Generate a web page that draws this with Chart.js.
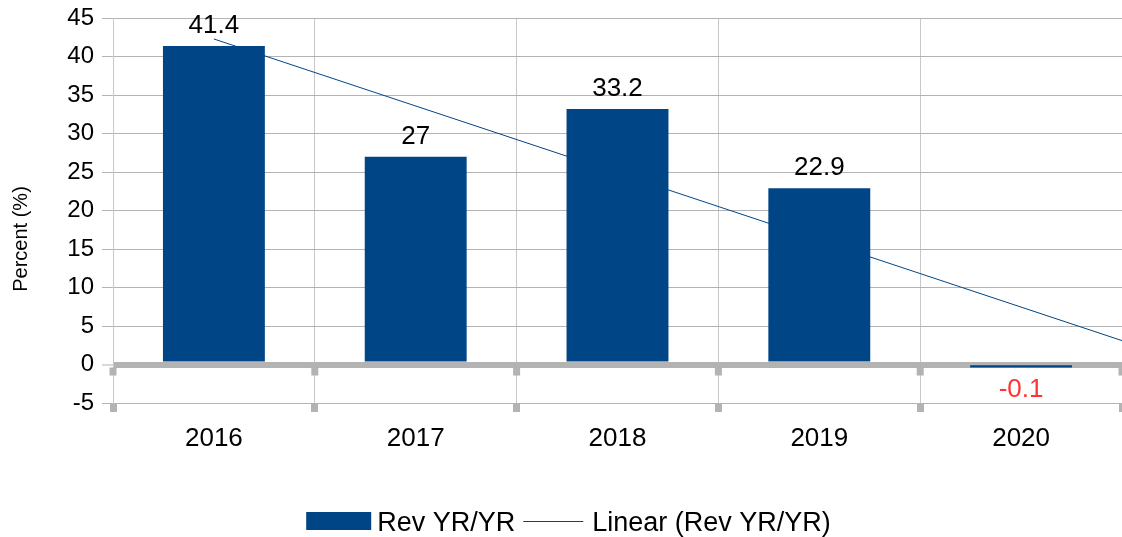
<!DOCTYPE html>
<html>
<head>
<meta charset="utf-8">
<script src="https://cdn.jsdelivr.net/npm/chart.js@4/dist/chart.umd.min.js"></script>
<style>
html,body{margin:0;padding:0;background:#fff;}
#wrap{width:1122px;height:537px;position:relative;}
</style>
</head>
<body>
<div id="wrap"><canvas id="c" width="1122" height="537"></canvas></div>
<script>
const categories = ['2016', '2017', '2018', '2019', '2020'];
const revYrYr = [41.4, 27, 33.2, 22.9, -0.1];
const yMin = -5, yMax = 45, yStep = 5;
const seriesName = 'Rev YR/YR';
const trendName = 'Linear (Rev YR/YR)';
const yTitle = 'Percent (%)';

// linear trend line computed from the series (as the source chart does)
const n = revYrYr.length;
const xs = revYrYr.map((_, i) => i + 1);
const mx = xs.reduce((a, b) => a + b, 0) / n;
const my = revYrYr.reduce((a, b) => a + b, 0) / n;
let sxy = 0, sxx = 0;
for (let i = 0; i < n; i++) { sxy += (xs[i] - mx) * (revYrYr[i] - my); sxx += (xs[i] - mx) ** 2; }
const slope = sxy / sxx, intercept = my - slope * mx;
const trendX = [1, n + 0.5];
const trendPts = trendX.map(x => ({ x: x, y: intercept + slope * x }));

const FONT = "'Liberation Sans', Arial, sans-serif";
const GRID = '#b3b3b3';
const VGRID = '#c8c8c8';
const BLUE = '#004586';

const decor = {
  id: 'decor',
  beforeDatasetsDraw(chart) {
    const x = chart.scales.x, y = chart.scales.y, ctx = chart.ctx;
    const y0 = y.getPixelForValue(0);
    const bounds = [x.left];
    for (let i = 1; i < categories.length; i++) bounds.push((x.getPixelForValue(i - 1) + x.getPixelForValue(i)) / 2);
    bounds.push(x.right);
    ctx.save();
    ctx.fillStyle = GRID;
    bounds.forEach(b => ctx.fillRect(b - 3.5, y0 + 3, 7, 8));
    ctx.restore();
  },
  afterDatasetsDraw(chart) {
    const meta = chart.getDatasetMeta(0), ctx = chart.ctx;
    ctx.save();
    ctx.font = '26px ' + FONT;
    ctx.textAlign = 'center';
    ctx.textBaseline = 'alphabetic';
    meta.data.forEach((el, i) => {
      const v = revYrYr[i];
      if (v >= 0) {
        ctx.fillStyle = '#000000';
        ctx.fillText(String(v), el.x, el.y - 13);
      } else {
        ctx.fillStyle = '#ff3333';
        ctx.fillText(String(v), el.x, el.y + 32);
      }
    });
    ctx.restore();
  },
  afterDraw(chart) {
    const ctx = chart.ctx;
    ctx.save();
    // y axis title
    ctx.font = '20px ' + FONT;
    ctx.fillStyle = '#000';
    ctx.textAlign = 'center';
    ctx.textBaseline = 'middle';
    ctx.translate(21, 239);
    ctx.rotate(-Math.PI / 2);
    ctx.fillText(yTitle, 0, 0);
    ctx.restore();

    // legend
    ctx.save();
    ctx.font = '27px ' + FONT;
    const w1 = ctx.measureText(seriesName).width;
    const w2 = ctx.measureText(trendName).width;
    const boxW = 65, boxH = 18, lineW = 60;
    const total = boxW + 6 + w1 + 8 + lineW + 9 + w2;
    let cx = 568.5 - total / 2;
    const cy = 521;
    ctx.fillStyle = BLUE;
    ctx.fillRect(cx, cy - boxH / 2, boxW, boxH);
    cx += boxW + 6;
    ctx.fillStyle = '#000';
    ctx.textAlign = 'left';
    ctx.textBaseline = 'alphabetic';
    ctx.fillText(seriesName, cx, cy + 10);
    cx += w1 + 8;
    ctx.strokeStyle = BLUE;
    ctx.lineWidth = 1;
    ctx.beginPath();
    ctx.moveTo(cx, cy + 0.5);
    ctx.lineTo(cx + lineW, cy + 0.5);
    ctx.stroke();
    cx += lineW + 9;
    ctx.fillText(trendName, cx, cy + 10);
    ctx.restore();
  }
};

new Chart(document.getElementById('c'), {
  type: 'bar',
  data: {
    labels: categories,
    datasets: [
      {
        type: 'bar',
        label: seriesName,
        data: revYrYr,
        backgroundColor: BLUE,
        borderWidth: 0,
        grouped: false,
        categoryPercentage: 1,
        barPercentage: 0.505,
        xAxisID: 'x',
        yAxisID: 'y'
      },
      {
        type: 'line',
        label: trendName,
        data: trendPts,
        borderColor: BLUE,
        backgroundColor: BLUE,
        borderWidth: 1,
        pointRadius: 0,
        tension: 0,
        xAxisID: 'xt',
        yAxisID: 'y'
      }
    ]
  },
  options: {
    responsive: false,
    animation: false,
    events: [],
    layout: { padding: { top: 8, right: 0, left: 0, bottom: 34 } },
    plugins: {
      tooltip: { enabled: false },
      legend: { display: false }
    },
    scales: {
      x: {
        type: 'category',
        offset: true,
        grid: { offset: true, color: VGRID, lineWidth: 1, tickLength: 9, tickWidth: 7, tickColor: GRID, drawTicks: true },
        border: { display: true, color: GRID },
        ticks: { color: '#000', font: { family: FONT, size: 26 }, padding: 11, maxRotation: 0 },
        afterFit(s) { s.height = 100; }
      },
      xt: {
        type: 'linear',
        display: false,
        offset: false,
        min: 0.5,
        max: n + 0.5
      },
      y: {
        min: yMin,
        max: yMax,
        ticks: { stepSize: yStep, color: '#000', font: { family: FONT, size: 24, lineHeight: 0.85 }, padding: 8 },
        grid: {
          color: GRID,
          lineWidth: ctx => (ctx.tick && ctx.tick.value === 0 ? 6 : 1),
          tickWidth: 1,
          tickColor: GRID,
          tickLength: 11
        },
        border: { display: true, color: VGRID },
        title: { display: false },
        afterFit(s) { s.width = 113; }
      }
    }
  },
  plugins: [decor]
});
</script>
</body>
</html>
